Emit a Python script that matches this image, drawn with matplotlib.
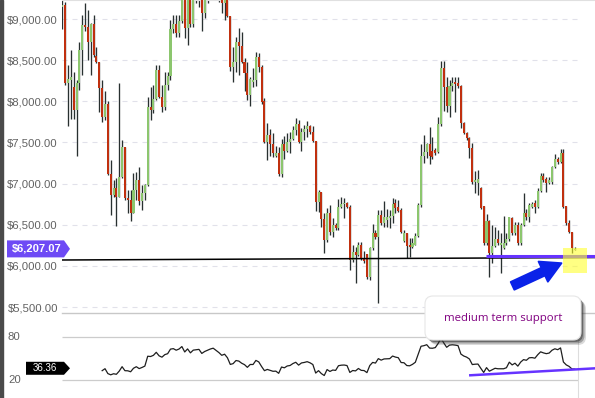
import matplotlib
matplotlib.use("Agg")
import matplotlib.pyplot as plt
import numpy as np
from matplotlib.patches import Polygon, FancyBboxPatch, FancyArrowPatch, Rectangle
from matplotlib.transforms import IdentityTransform, blended_transform_factory

# ---------------- data ----------------
opens = [9142, 9170, 8226, 8260, 8180, 7895, 8220, 8620, 8930, 8900,
         8725, 8940, 8550, 8480, 8160, 7810, 7970, 7120, 6860, 6945,
         6840, 7085, 7450, 6820, 6800, 6640, 6920, 7050, 6790, 6880,
         6985, 7925, 7895, 8025, 8380, 8055, 7925, 8200, 8305, 8880,
         8940, 8825, 8970, 9300, 8885, 9280, 8945, 9300, 9350, 9400,
         9077, 9300, 9450, 9600, 9700, 9550, 9400, 9200, 9300, 9036,
         8421, 8482, 8725, 8676, 8482, 8348, 8077, 8240, 8259, 8542,
         8421, 8004, 7510, 7591, 7481, 7335, 7376, 7117, 7481, 7400,
         7510, 7538, 7651, 7724, 7510, 7631, 7659, 7700, 7631, 7522,
         6781, 6902, 6566, 6315, 6639, 6416, 6497, 6457, 6720, 6752,
         6760, 6720, 6072, 6173, 6133, 6254, 6100, 6145, 5861, 6214,
         6396, 6347, 6619, 6525, 6560, 6580, 6606, 6760, 6712, 6679,
         6307, 6396, 6254, 6226, 6254, 6363, 6740, 7335, 7388, 7481,
         7400, 7408, 7388, 7724, 8401, 8170, 7943, 8186, 8239, 8218,
         8186, 7732, 7619, 7550, 7429, 7024, 7011, 6943, 6728, 6282,
         6550, 6153, 6242, 6323, 6250, 6214, 6274, 6323, 6578, 6404,
         6493, 6282, 6497, 6639, 6598, 6720, 6760, 6720, 6914, 7092,
         7052, 7003, 7024, 7206, 7303, 7263, 7368, 6728, 6525, 6416,
         6193]
highs = [9250, 9210, 8440, 8620, 8360, 8260, 8725, 9050, 9190, 9110,
         8950, 9050, 8660, 8480, 8260, 8120, 8000, 7290, 7040, 7065,
         8220, 7530, 7450, 6920, 6920, 7125, 7145, 7205, 6985, 7000,
         8055, 8180, 8200, 8440, 8440, 8200, 8360, 8360, 8990, 9050,
         9050, 9050, 9350, 9350, 9320, 9320, 9350, 9400, 9450, 9450,
         9350, 9500, 9650, 9800, 9800, 9600, 9450, 9350, 9350, 9040,
         8664, 8785, 8887, 8846, 8522, 8482, 8291, 8401, 8603, 8583,
         8441, 8036, 7740, 7659, 7619, 7457, 7449, 7538, 7578, 7611,
         7631, 7700, 7793, 7773, 7672, 7712, 7765, 7712, 7700, 7522,
         6922, 6902, 6639, 6700, 6740, 6578, 6517, 6809, 6841, 6821,
         6780, 6740, 6254, 6234, 6295, 6295, 6180, 6150, 6234, 6509,
         6436, 6679, 6679, 6789, 6687, 6679, 6821, 6809, 6801, 6700,
         6436, 6404, 6335, 6335, 6396, 6760, 7481, 7591, 7489, 7692,
         7570, 7430, 7805, 8490, 8490, 8299, 8259, 8291, 8291, 8291,
         8198, 7753, 7631, 7562, 7490, 7157, 7165, 6963, 6728, 6631,
         6558, 6497, 6477, 6436, 6396, 6606, 6396, 6598, 6598, 6538,
         6538, 6525, 6882, 6687, 6768, 6780, 6801, 6943, 7125, 7133,
         7084, 7080, 7215, 7360, 7327, 7417, 7417, 6728, 6558, 6416,
         6226]
lows = [8875, 8200, 7700, 7790, 7785, 7330, 8140, 8320, 8860, 8500,
        8320, 8540, 8470, 7875, 7750, 7770, 7100, 6620, 6840, 6480,
        6840, 7065, 6800, 6640, 6540, 6640, 6800, 6740, 6680, 6800,
        6965, 7775, 7855, 8015, 8040, 7875, 7900, 8140, 8260, 8825,
        8785, 8785, 8950, 8765, 8680, 8905, 8905, 9190, 9150, 8860,
        9008, 9190, 9400, 9500, 9450, 9210, 9077, 8990, 9028, 8372,
        8239, 8360, 8320, 8460, 8129, 8016, 7943, 8170, 8186, 8360,
        7967, 7489, 7287, 7335, 7319, 7320, 7092, 7084, 7295, 7380,
        7376, 7530, 7591, 7489, 7400, 7530, 7570, 7600, 7510, 6671,
        6659, 6477, 6153, 6295, 6376, 6355, 6440, 6436, 6700, 6578,
        6700, 5950, 6052, 5796, 6120, 6072, 6030, 5840, 5829, 6193,
        6330, 5545, 6500, 6477, 6477, 6457, 6517, 6639, 6650, 6400,
        6295, 6092, 6104, 6214, 6250, 6355, 6720, 7246, 7307, 7238,
        7300, 7350, 7370, 7700, 7887, 7874, 7813, 8129, 7874, 8160,
        7672, 7600, 7530, 7307, 7000, 6890, 6862, 6690, 6260, 6260,
        5869, 6031, 6230, 6250, 5910, 6200, 6260, 6300, 6380, 6380,
        6260, 6254, 6480, 6560, 6538, 6700, 6639, 6700, 6902, 7020,
        6902, 6990, 7000, 7190, 7240, 7250, 6700, 6500, 6400, 6153,
        6190]
closes = [9170, 8226, 8270, 8300, 7895, 8220, 8620, 8930, 8900, 8725,
          8940, 8560, 8480, 8160, 7810, 7970, 7120, 6860, 6945, 6840,
          7085, 7450, 6820, 6800, 6640, 6920, 7050, 6790, 6880, 6985,
          7925, 7895, 8025, 8380, 8055, 7925, 8200, 8305, 8880, 8945,
          8825, 8970, 9300, 8885, 9280, 8945, 9300, 9350, 9400, 9077,
          9300, 9450, 9600, 9700, 9550, 9400, 9200, 9300, 9036, 8421,
          8482, 8725, 8676, 8482, 8348, 8077, 8267, 8265, 8542, 8421,
          7996, 7510, 7591, 7481, 7368, 7376, 7117, 7481, 7400, 7510,
          7538, 7651, 7724, 7510, 7631, 7659, 7700, 7631, 7522, 6781,
          6902, 6566, 6315, 6639, 6416, 6497, 6457, 6720, 6752, 6760,
          6720, 6072, 6173, 6133, 6254, 6080, 6060, 5861, 6214, 6396,
          6347, 6619, 6517, 6590, 6598, 6606, 6752, 6700, 6671, 6416,
          6404, 6242, 6226, 6282, 6363, 6740, 7335, 7388, 7481, 7335,
          7327, 7376, 7724, 8401, 8170, 7943, 8186, 8226, 8210, 8186,
          7740, 7619, 7550, 7429, 7024, 7044, 7052, 6705, 6282, 6550,
          6153, 6242, 6323, 6274, 6274, 6274, 6323, 6598, 6404, 6493,
          6282, 6497, 6639, 6598, 6740, 6752, 6720, 6914, 7092, 7044,
          7011, 7044, 7206, 7295, 7263, 7368, 6720, 6525, 6416, 6214,
          6207.07]

price_ticks = [5500, 6000, 6500, 7000, 7500, 8000, 8500, 9000]
rsi_ticks = [80, 20]
rsi_last_label = 36.36             # value printed on the RSI tag
support_main = [6072, 6102]        # black support line (left, right)
support_recent = 6120              # purple support line
rsi_trend = [26.6, 36.3]           # purple RSI trend line (start, end)
rsi_period = 14

# ---------------- helpers ----------------
def wilder_rsi(values, n):
    v = np.asarray(values, dtype=float)
    d = np.diff(v)
    g = np.clip(d, 0, None)
    l = np.clip(-d, 0, None)
    ag, al = g[:n].mean(), l[:n].mean()
    out = [100 - 100 / (1 + ag / al)]
    for i in range(n, len(d)):
        ag = (ag * (n - 1) + g[i]) / n
        al = (al * (n - 1) + l[i]) / n
        out.append(100 - 100 / (1 + ag / al))
    return np.array(out)

W, H = 595, 398
fig = plt.figure(figsize=(W / 100, H / 100), dpi=100)
fig.patch.set_facecolor("white")
plt.rcParams["font.family"] = ["Liberation Sans", "DejaVu Sans"]

ax = fig.add_axes([62 / W, 1 - 313 / H, 533 / W, 313 / H])
rax = fig.add_axes([62 / W, 0, 533 / W, 85 / H])

n = len(closes)
idx = np.arange(n)
xl = (-0.105, 187.1)
grid_end = 180.8

GREEN, RED, WICK = "#8cc66e", "#c0300f", "#283030"

# ---------------- main price panel ----------------
ax.set_xlim(*xl)
ax.set_ylim(5428, 9231)
ax.hlines(price_ticks, xl[0], grid_end, colors="#e1e1ea", lw=0.8,
          linestyles=(0, (4.5, 4.5)), zorder=0)

o = np.array(opens, float)
c = np.array(closes, float)
up = c >= o
ax.vlines(idx, lows, highs, color=WICK, lw=0.95, zorder=2)
ax.bar(idx, np.maximum(np.abs(c - o), 14), bottom=np.minimum(o, c), width=0.72,
       color=np.where(up, GREEN, RED), linewidth=0, zorder=3)

ax.plot([xl[0], xl[1]], support_main, color="black", lw=1.1, zorder=4)
ax.plot([148.8, xl[1]], [support_recent, support_recent], color="#6633ff",
        lw=2.2, zorder=4, solid_capstyle="butt")
ax.add_patch(Rectangle((175.9, 5914), 8.4, 304, facecolor="#ffff30",
                       edgecolor="none", alpha=0.6, zorder=5))

ax.set_yticks(price_ticks)
ax.set_yticklabels([f"${v:,.2f}" for v in price_ticks])
ax.tick_params(axis="y", length=0, pad=2.9, labelsize=8.2, labelcolor="#626262")
ax.set_xticks([])
for s in ["left", "right"]:
    ax.spines[s].set_visible(False)
ax.spines["top"].set_color("#e0e0e0")
ax.spines["top"].set_linewidth(0.8)
ax.spines["bottom"].set_color("#c8c8c8")
ax.spines["bottom"].set_linewidth(1.0)
ax.set_facecolor("none")

# ---------------- RSI panel ----------------
rsi = wilder_rsi(closes, rsi_period)
rax.set_xlim(*xl)
rax.set_ylim(-5.1, 113.5)
rax.hlines(rsi_ticks, xl[0], grid_end + 0.3, colors="#cccccc", lw=0.9, zorder=0)
rax.vlines(grid_end + 0.3, -5.1, 113.5, colors="#dddddd", lw=0.8, zorder=0)
rax.plot(idx[rsi_period:], rsi, color="#1e1e1e", lw=0.9, zorder=3)
rax.plot([143.3, xl[1]], rsi_trend, color="#6633ff", lw=1.8, zorder=4)
rax.axis("off")

tr = blended_transform_factory(fig.transFigure, rax.transData)
for t in rsi_ticks:
    fig.text(8 / W, t, str(t), transform=tr, ha="left", va="center",
             fontsize=8.2, color="#626262")

# ---------------- decorations ----------------
fig.add_artist(Rectangle((0, 0), 3 / W, 1, transform=fig.transFigure,
                         color="#4a4a4a", zorder=1))

# last-price tag
yc = ax.transData.transform((0, closes[-1]))[1]
tag = Polygon([(7, yc + 8.5), (64, yc + 8.5), (70, yc), (64, yc - 8.5), (7, yc - 8.5)],
              closed=True, transform=IdentityTransform(), facecolor="#6e4af5",
              edgecolor="none", zorder=6)
fig.add_artist(tag)
fig.text(37 / W, yc / H, f"${closes[-1]:,.2f}", ha="center", va="center",
         fontsize=8, fontweight="bold", color="white", zorder=7)

# RSI tag
yr = rax.transData.transform((0, rsi_last_label))[1]
rtag = Polygon([(26, yr + 6.5), (64, yr + 6.5), (70, yr), (64, yr - 6.5), (26, yr - 6.5)],
               closed=True, transform=IdentityTransform(), facecolor="black",
               edgecolor="none", zorder=6)
fig.add_artist(rtag)
fig.text(45 / W, yr / H, f"{rsi_last_label:.2f}", ha="center", va="center",
         fontsize=7, color="white", zorder=7)

# arrow
arr = FancyArrowPatch((510, H - 287), (564, H - 262),
                      arrowstyle="simple,head_length=1.45,head_width=1.6,tail_width=0.62",
                      mutation_scale=10, transform=IdentityTransform(),
                      facecolor="#0a22e8", edgecolor="#0a22e8", lw=1.3,
                      joinstyle="round", zorder=8)
fig.add_artist(arr)

# callout box
for off, a in [(5, 0.18), (3.5, 0.35), (2, 0.5)]:
    fig.add_artist(FancyBboxPatch((425 + off, H - 340 - off), 156, 44,
                                  boxstyle="round,pad=0,rounding_size=8",
                                  transform=IdentityTransform(), facecolor="#333333",
                                  edgecolor="none", alpha=a, zorder=8))
fig.add_artist(FancyBboxPatch((425, H - 340), 156, 44,
                              boxstyle="round,pad=0,rounding_size=8",
                              transform=IdentityTransform(), facecolor="white",
                              edgecolor="#e6e6e6", lw=0.8, zorder=9))
fig.text(503 / W, 1 - 319 / H, "medium term support", ha="center", va="center",
         fontsize=8.2, color="#800080", family=["Open Sans", "DejaVu Sans"], zorder=10)

fig.savefig("out.png", dpi=100, facecolor="white")
